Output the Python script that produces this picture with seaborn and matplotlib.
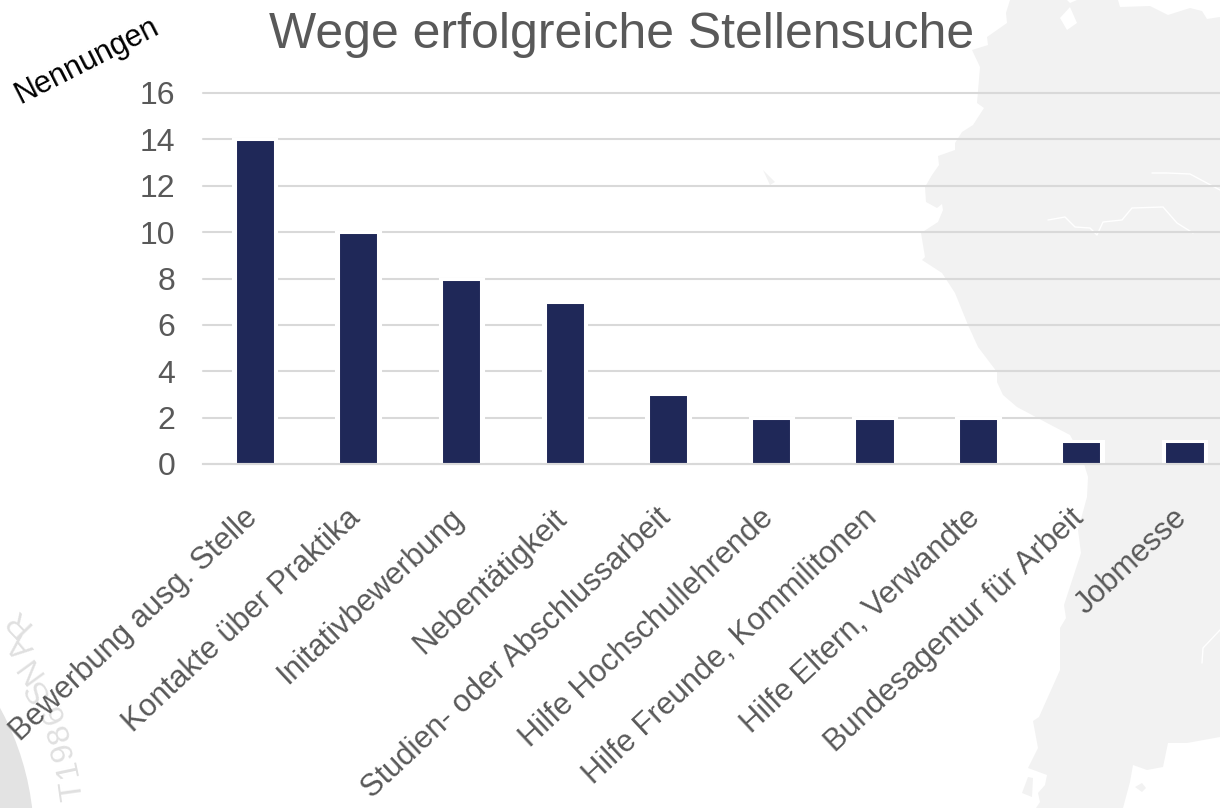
import matplotlib
matplotlib.use("Agg")
import matplotlib.pyplot as plt
import numpy as np
import pandas as pd
import seaborn as sns
from matplotlib.patches import Polygon, Wedge
from matplotlib.transforms import ScaledTranslation

# ── DATA ─────────────────────────────────────────────────────────────────────
categories = [
    "Bewerbung ausg. Stelle", "Kontakte über Praktika", "Initativbewerbung",
    "Nebentätigkeit", "Studien- oder Abschlussarbeit", "Hilfe Hochschullehrende",
    "Hilfe Freunde, Kommilitonen", "Hilfe Eltern, Verwandte",
    "Bundesagentur für Arbeit", "Jobmesse",
]
nennungen = [14, 10, 8, 7, 3, 2, 2, 2, 1, 1]
y_ticks = [0, 2, 4, 6, 8, 10, 12, 14, 16]

# background map outline in pixels (faint decoration behind the chart)
MAP_OUTLINE = [
    (1010, 0), (1006, 13), (1007, 23), (987, 37), (988, 45), (972, 50), (980, 67),
    (977, 103), (984, 108), (973, 125), (962, 132), (955, 143), (955, 150), (938, 156),
    (939, 165), (932, 175), (925, 187), (926, 202), (937, 208), (942, 204), (943, 210),
    (938, 222), (921, 233), (925, 257), (922, 260), (942, 273), (955, 293), (968, 325),
    (978, 347), (997, 372), (997, 382), (1003, 395), (1017, 407), (1047, 423), (1070, 435),
    (1082, 457), (1088, 477), (1087, 497), (1078, 530), (1081, 553), (1064, 605), (1066, 618),
    (1060, 628), (1060, 670), (1039, 717), (1033, 721), (1038, 748), (1028, 768), (1047, 775),
    (1045, 785), (1038, 793), (1040, 802), (1036, 808), (1123, 808), (1130, 782), (1133, 765),
    (1147, 770), (1163, 767), (1168, 743), (1187, 743), (1220, 737), (1220, 17), (1207, 19),
    (1202, 11), (1190, 8), (1168, 15), (1150, 6), (1120, 7), (1118, 0), (1077, 0), (1070, 3),
    (1067, 0),
]
MAP_ISLANDS = [
    [(1028, 777), (1022, 793), (1032, 797), (1033, 778)],
    [(1135, 787), (1142, 783), (1146, 788), (1142, 792)],
    [(763, 170), (775, 182), (770, 185)],
]
MAP_LAKE = [(1060, 18), (1070, 7), (1077, 23), (1067, 30)]
MAP_RIVERS = [
    [(1152, 173), (1167, 173), (1190, 174), (1220, 190)],
    [(1048, 220), (1065, 217), (1075, 227), (1090, 228), (1097, 235), (1103, 222),
     (1122, 220), (1132, 208), (1163, 207), (1177, 223), (1193, 233)],
    [(1220, 630), (1203, 648), (1202, 663)],
]
# stamp letters: character, x, y, rotation
STAMP_LETTERS = [
    ("T", 73, 790, 98), ("1", 68, 768, 102), ("9", 63, 751, 106), ("8", 60, 732, 110),
    ("6", 54, 713, 114), ("S", 38, 690, 120), ("N", 30, 668, 126), ("A", 22, 645, 130),
    ("R", 18, 621, 134),
]

W, H = 1220, 808
TEXT_GREY = "#595959"
GRID_GREY = "#d9d9d9"
BAR_BLUE = "#1f2858"
MAP_GREY = "#f2f2f2"

sns.set_theme(style="white")
plt.rcParams["font.family"] = ["Liberation Sans", "DejaVu Sans"]

fig = plt.figure(figsize=(W / 100, H / 100), dpi=100)

# ── BACKGROUND ───────────────────────────────────────────────────────────────
bg = fig.add_axes([0, 0, 1, 1], zorder=0)
bg.set_xlim(0, W)
bg.set_ylim(H, 0)
bg.axis("off")
bg.add_patch(Polygon(MAP_OUTLINE, closed=True, fc=MAP_GREY, ec="none"))
for island in MAP_ISLANDS:
    bg.add_patch(Polygon(island, closed=True, fc=MAP_GREY, ec="none"))
bg.add_patch(Polygon(MAP_LAKE, closed=True, fc="white", ec="none"))
for river in MAP_RIVERS:
    xs, ys = zip(*river)
    bg.plot(xs, ys, color="white", lw=1.0)

# stamp in the lower left corner
bg.add_patch(Wedge((-240, 840), 274, 270, 360, width=40, fc="#e3e3e3", ec="none"))
for ch, x, y, rot in STAMP_LETTERS:
    bg.text(x, y, ch, fontsize=23, color="#e0e0e0", rotation=rot,
            ha="center", va="center", rotation_mode="anchor")

# ── CHART ────────────────────────────────────────────────────────────────────
ax = fig.add_axes([203 / W, 1 - 464 / H, 1033.3 / W, (464 - 93) / H], zorder=1)
ax.patch.set_alpha(0)

df = pd.DataFrame({"weg": categories, "nennungen": nennungen})
ax.yaxis.grid(True, color=GRID_GREY, lw=1.5, clip_on=False)
ax.set_axisbelow(True)

# white halo behind the bars, then the bars themselves
sns.barplot(data=df, x="weg", y="nennungen", ax=ax, color="white", saturation=1,
            width=0.42, edgecolor="white", linewidth=2.2, zorder=2)
sns.barplot(data=df, x="weg", y="nennungen", ax=ax, color=BAR_BLUE, saturation=1,
            width=0.39, edgecolor="white", linewidth=2.2, zorder=3)

ax.set_xlim(-0.5, len(categories) - 0.5)
ax.set_ylim(0, 16)
ax.set_yticks(y_ticks)
ax.set_xlabel("")
ax.set_ylabel("")

for side in ["top", "right", "left"]:
    ax.spines[side].set_visible(False)
ax.spines["bottom"].set_color(GRID_GREY)
ax.spines["bottom"].set_linewidth(1.5)
ax.spines["bottom"].set_zorder(4)

ax.set_xticks(np.arange(len(categories)))
ax.set_xticklabels(categories, rotation=43, ha="right", va="top",
                   rotation_mode="anchor", fontsize=22.2, color=TEXT_GREY)
ax.set_xticks(np.arange(len(categories) + 1) - 0.5, minor=True)
ax.tick_params(axis="x", which="major", length=0, pad=28)
ax.tick_params(axis="x", which="minor", length=7, width=1.5, color=GRID_GREY)
ax.tick_params(axis="y", length=0, pad=20, labelsize=23, labelcolor=TEXT_GREY)

# labels sit a bit left of the tick centres
shift = ScaledTranslation(-12 / 100, 0, fig.dpi_scale_trans)
for label in ax.get_xticklabels():
    label.set_transform(label.get_transform() + shift)

fig.text(622 / W, 1 - 35 / H, "Wege erfolgreiche Stellensuche", fontsize=36,
         color=TEXT_GREY, ha="center", va="center")
fig.text(87 / W, 1 - 61 / H, "Nennungen", fontsize=22, color="black", rotation=27,
         ha="center", va="center", rotation_mode="anchor")

fig.savefig("out.png", dpi=100)
